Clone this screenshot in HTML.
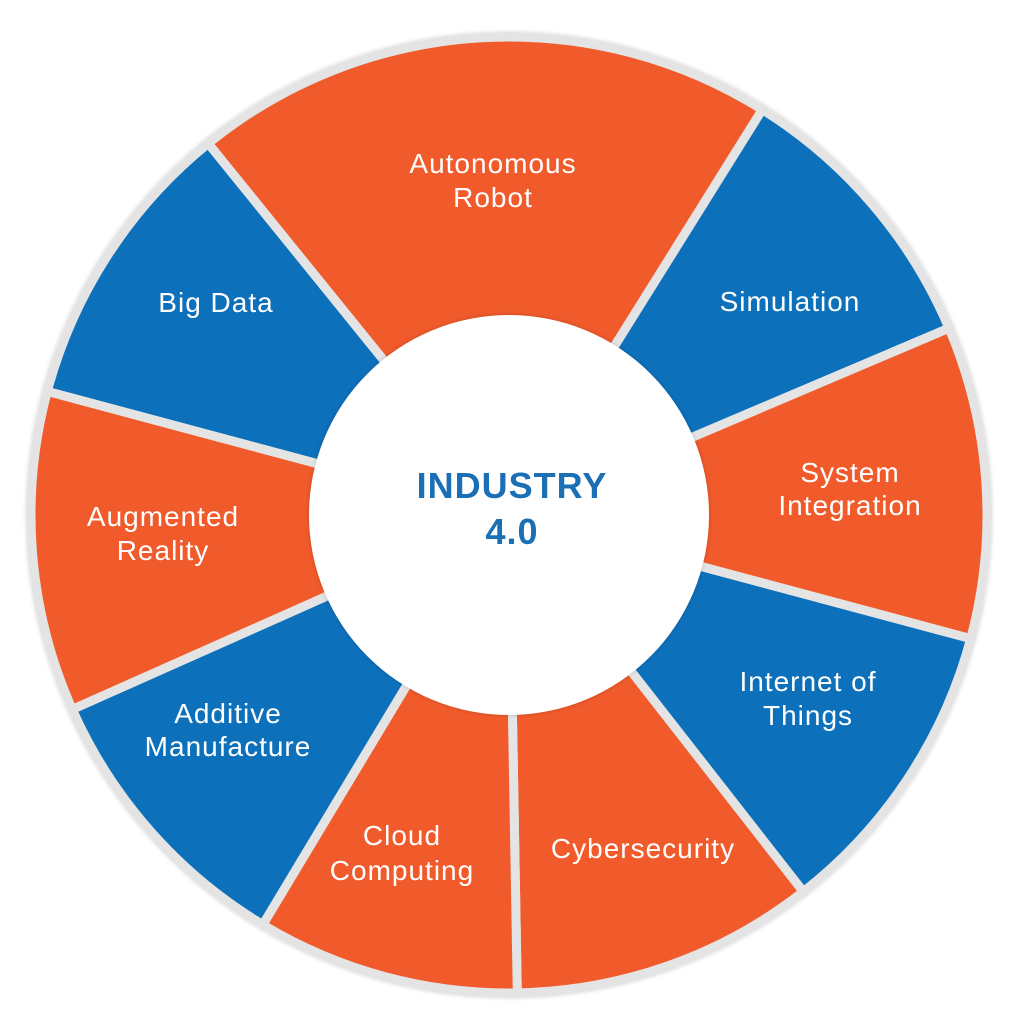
<!DOCTYPE html>
<html><head><meta charset="utf-8"><style>
html,body{margin:0;padding:0;background:#fff;}
svg{display:block}
text{font-family:"Liberation Sans",sans-serif;}
</style></head><body>
<svg id="s" width="1024" height="1024" viewBox="0 0 1024 1024">
<defs><filter id="sh" x="-10%" y="-10%" width="120%" height="120%"><feDropShadow dx="0" dy="0" stdDeviation="2" flood-color="#000" flood-opacity="0.2"/></filter></defs>
<g id="segs" filter="url(#sh)"></g>
<circle cx="509" cy="515" r="200" fill="#fff" filter="url(#sh)"/>
<g fill="#fff" font-size="28" letter-spacing="1" text-anchor="middle">
<text x="493" y="173">Autonomous</text><text x="493" y="207">Robot</text>
<text x="790" y="311">Simulation</text>
<text x="850" y="482">System</text><text x="850" y="515">Integration</text>
<text x="808" y="691">Internet of</text><text x="808" y="725">Things</text>
<text x="643" y="858">Cybersecurity</text>
<text x="402" y="845">Cloud</text><text x="402" y="880">Computing</text>
<text x="228" y="723">Additive</text><text x="228" y="756">Manufacture</text>
<text x="163" y="526">Augmented</text><text x="163" y="560">Reality</text>
<text x="216" y="312">Big Data</text>
</g>
<g fill="#1a6fb5" font-size="36" font-weight="bold" letter-spacing="1" text-anchor="middle">
<text x="512" y="498">INDUSTRY</text><text x="512" y="544">4.0</text>
</g>
</svg>
<script>
var cx=509,cy=515,R=478,r=200;
var b=[-39,32,67,105,142,179,211,246,285,321];
var cols=["#f15a29","#0a6fba","#f15a29","#0a6fba","#f15a29","#f15a29","#0a6fba","#f15a29","#0a6fba"];
function p(a,rr){a=a*Math.PI/180;return [(cx+rr*Math.sin(a)).toFixed(1),(cy-rr*Math.cos(a)).toFixed(1)];}
var g=document.getElementById("segs"),h="";
for(var i=0;i<9;i++){var a0=b[i],a1=b[i+1];var A=p(a0,R),B=p(a1,R),C=p(a1,r-20),D=p(a0,r-20);
var lg=(a1-a0)>180?1:0;
h+='<path d="M'+A+' A'+R+' '+R+' 0 '+lg+' 1 '+B+' L'+C+' A'+(r-20)+' '+(r-20)+' 0 '+lg+' 0 '+D+' Z" fill="'+cols[i]+'" stroke="#e4e4e4" stroke-width="9" stroke-linejoin="miter"/>';}
g.innerHTML=h;
</script>
</body></html>
